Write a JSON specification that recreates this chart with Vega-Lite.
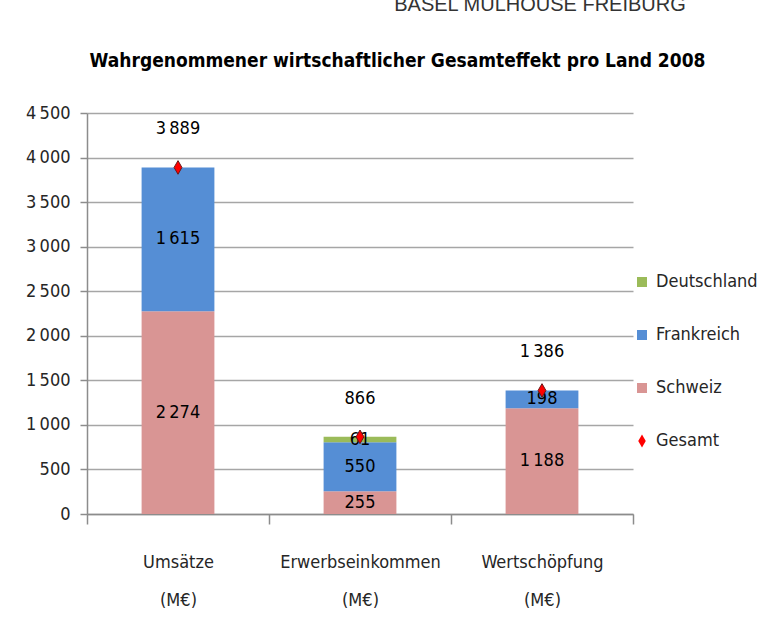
{
  "$schema": "https://vega.github.io/schema/vega-lite/v6.json",
  "width": 546,
  "height": 401,
  "autosize": {"type": "none"},
  "padding": {"left": 87, "top": 113, "right": 143, "bottom": 128},
  "background": "white",
  "title": {
    "text": "BASEL   MULHOUSE   FREIBURG",
    "font": "Liberation Sans",
    "fontSize": 20,
    "fontWeight": "normal",
    "color": "#333333",
    "anchor": "middle",
    "dx": 180,
    "offset": 36
  },
  "config": {
    "locale": {"number": {"decimal": ",", "thousands": "\u2009", "grouping": [3], "currency": ["", "€"]}},
    "font": "DejaVu Sans Condensed, Liberation Sans, sans-serif",
    "view": {"stroke": null}
  },
  "datasets": {
    "parts": [
      {"kategorie": "Umsätze|(M€)", "land": "Schweiz", "ord": 1, "wert": 2274},
      {"kategorie": "Umsätze|(M€)", "land": "Frankreich", "ord": 2, "wert": 1615},
      {"kategorie": "Umsätze|(M€)", "land": "Deutschland", "ord": 3, "wert": 0},
      {"kategorie": "Erwerbseinkommen|(M€)", "land": "Schweiz", "ord": 1, "wert": 255},
      {"kategorie": "Erwerbseinkommen|(M€)", "land": "Frankreich", "ord": 2, "wert": 550},
      {"kategorie": "Erwerbseinkommen|(M€)", "land": "Deutschland", "ord": 3, "wert": 61},
      {"kategorie": "Wertschöpfung|(M€)", "land": "Schweiz", "ord": 1, "wert": 1188},
      {"kategorie": "Wertschöpfung|(M€)", "land": "Frankreich", "ord": 2, "wert": 198},
      {"kategorie": "Wertschöpfung|(M€)", "land": "Deutschland", "ord": 3, "wert": 0}
    ],
    "totals": [
      {"kategorie": "Umsätze|(M€)", "land": "Gesamt", "gesamt": 3889},
      {"kategorie": "Erwerbseinkommen|(M€)", "land": "Gesamt", "gesamt": 866},
      {"kategorie": "Wertschöpfung|(M€)", "land": "Gesamt", "gesamt": 1386}
    ]
  },
  "resolve": {"axis": {"x": "independent"}},
  "layer": [
    {
      "data": {"name": "parts"},
      "mark": {"type": "bar", "width": {"band": 0.4}},
      "encoding": {
        "x": {
          "field": "kategorie", "type": "nominal", "sort": null,
          "scale": {"paddingInner": 0, "paddingOuter": 0},
          "axis": {
            "title": null, "labelAngle": 0, "labelFontSize": 18, "labelColor": "#262626",
            "labelExpr": "split(datum.label, '|')", "labelLineHeight": 38, "labelPadding": 29,
            "domainColor": "#8C8C8C", "domainWidth": 1.5, "tickColor": "#8C8C8C", "tickWidth": 1.5,
            "tickSize": 10, "tickBand": "extent", "grid": false
          }
        },
        "y": {
          "field": "wert", "type": "quantitative", "stack": "zero",
          "scale": {"domain": [0, 4500]},
          "axis": {
            "title": null, "values": [0, 500, 1000, 1500, 2000, 2500, 3000, 3500, 4000, 4500],
            "format": ",d", "labelFontSize": 18, "labelColor": "#262626", "labelPadding": 10,
            "grid": true, "gridColor": "#A6A6A6", "gridWidth": 1.5,
            "domainColor": "#8C8C8C", "domainWidth": 1.5, "tickColor": "#8C8C8C", "tickWidth": 1.5, "tickSize": 7
          }
        },
        "order": {"field": "ord", "type": "quantitative"},
        "color": {
          "field": "land", "type": "nominal",
          "scale": {"domain": ["Deutschland", "Frankreich", "Schweiz", "Gesamt"], "range": ["#9BBB59", "#558ED5", "#D99594", "#FF0000"]},
          "legend": {
            "title": null, "orient": "none", "legendX": 546, "legendY": 160,
            "labelFontSize": 18, "labelColor": "#262626", "rowPadding": 35,
            "symbolSize": 100, "symbolStrokeWidth": 0, "labelOffset": 5,
            "encode": {"symbols": {"update": {"shape": {"signal": "datum.value === 'Gesamt' ? 'M0,-1.3L0.75,0L0,1.3L-0.75,0Z' : 'square'"}}}}
          }
        }
      }
    },
    {
      "data": {"name": "parts"},
      "transform": [
        {"stack": "wert", "groupby": ["kategorie"], "sort": [{"field": "ord"}], "as": ["w0", "w1"]},
        {"filter": "datum.wert > 0"},
        {"calculate": "(datum.w0 + datum.w1) / 2", "as": "mitte"}
      ],
      "mark": {"type": "text", "fontSize": 18, "color": "#000000", "baseline": "middle"},
      "encoding": {
        "x": {"field": "kategorie", "type": "nominal", "sort": null, "axis": null},
        "y": {"field": "mitte", "type": "quantitative"},
        "text": {"field": "wert", "type": "quantitative", "format": ",d"}
      }
    },
    {
      "data": {"name": "totals"},
      "mark": {"type": "point", "shape": "M0,-1.3L0.75,0L0,1.3L-0.75,0Z", "filled": true, "size": 110, "stroke": "#6A1A1A", "strokeWidth": 1, "opacity": 1},
      "encoding": {
        "x": {"field": "kategorie", "type": "nominal", "sort": null, "axis": null},
        "y": {"field": "gesamt", "type": "quantitative"},
        "color": {"field": "land", "type": "nominal"}
      }
    },
    {
      "data": {"name": "totals"},
      "mark": {"type": "text", "fontSize": 18, "color": "#000000", "baseline": "middle", "dy": -38},
      "encoding": {
        "x": {
          "field": "kategorie", "type": "nominal", "sort": null,
          "axis": {
            "orient": "top", "labels": false, "ticks": false, "domain": false, "grid": false,
            "title": "Wahrgenommener wirtschaftlicher Gesamteffekt pro Land 2008",
            "titleFont": "DejaVu Sans Condensed, Liberation Sans, sans-serif", "titleFontSize": 19,
            "titleFontWeight": "bold", "titleColor": "#000000", "titleX": 310, "titleY": -47,
            "titleBaseline": "alphabetic", "titleAnchor": "middle", "titleAlign": "center"
          }
        },
        "y": {"field": "gesamt", "type": "quantitative"},
        "text": {"field": "gesamt", "type": "quantitative", "format": ",d"}
      }
    }
  ]
}
